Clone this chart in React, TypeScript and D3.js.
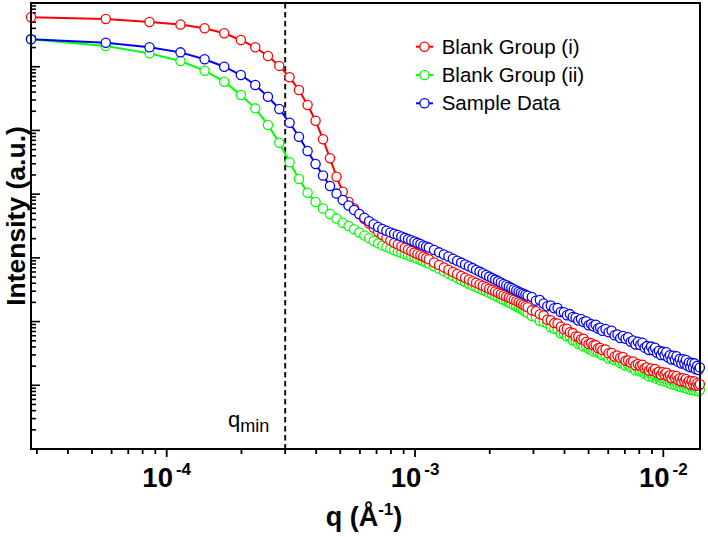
import React from "react";
import * as d3 from "d3";

// Scattering vector q (Å⁻¹) of each plotted point
const qValues = [
  2.841e-5, 5.682e-5, 8.523e-5, 1.136e-4, 1.421e-4, 1.705e-4, 1.989e-4, 2.273e-4, 2.557e-4, 2.841e-4,
  3.125e-4, 3.409e-4, 3.693e-4, 3.977e-4, 4.262e-4, 4.546e-4, 4.83e-4, 5.114e-4, 5.398e-4, 5.682e-4,
  5.966e-4, 6.25e-4, 6.534e-4, 6.818e-4, 7.103e-4, 7.387e-4, 7.671e-4, 7.955e-4, 8.239e-4, 8.523e-4,
  8.807e-4, 9.091e-4, 9.375e-4, 9.659e-4, 9.944e-4, 1.0228e-3, 1.0512e-3, 1.0796e-3, 1.108e-3, 1.1364e-3,
  1.1932e-3, 1.25e-3, 1.3069e-3, 1.3637e-3, 1.4205e-3, 1.4773e-3, 1.5341e-3, 1.591e-3, 1.6478e-3, 1.7046e-3,
  1.7614e-3, 1.8182e-3, 1.8751e-3, 1.9319e-3, 1.9887e-3, 2.0455e-3, 2.1023e-3, 2.1592e-3, 2.216e-3, 2.2728e-3,
  2.3296e-3, 2.3864e-3, 2.4433e-3, 2.5001e-3, 2.5569e-3, 2.6137e-3, 2.6705e-3, 2.7274e-3, 2.7842e-3, 2.841e-3,
  2.9546e-3, 3.0683e-3, 3.1819e-3, 3.2956e-3, 3.4092e-3, 3.5228e-3, 3.6365e-3, 3.7501e-3, 3.8638e-3, 3.9774e-3,
  4.091e-3, 4.2047e-3, 4.3183e-3, 4.432e-3, 4.5456e-3, 4.6592e-3, 4.7729e-3, 4.8865e-3, 5.0002e-3, 5.1138e-3,
  5.2274e-3, 5.3411e-3, 5.4547e-3, 5.5684e-3, 5.682e-3,
  5.8525e-3, 6.0229e-3, 6.1934e-3, 6.3638e-3, 6.5343e-3, 6.7048e-3, 6.8752e-3, 7.0457e-3, 7.2161e-3, 7.3866e-3,
  7.5571e-3, 7.7275e-3, 7.898e-3, 8.0684e-3, 8.2389e-3, 8.4094e-3, 8.5798e-3, 8.7503e-3, 8.9207e-3, 9.0912e-3,
  9.2617e-3, 9.4321e-3, 9.6026e-3, 9.773e-3, 9.9435e-3, 1.0114e-2, 1.02844e-2, 1.04549e-2, 1.06253e-2, 1.07958e-2,
  1.09663e-2, 1.11367e-2, 1.13072e-2, 1.14776e-2, 1.16481e-2, 1.18186e-2, 1.1989e-2, 1.21595e-2, 1.23299e-2, 1.25004e-2,
  1.26709e-2, 1.28413e-2, 1.30118e-2, 1.31822e-2, 1.33527e-2, 1.35232e-2, 1.36936e-2, 1.38641e-2, 1.40345e-2,
];

// Intensity (a.u.) for each series at the q values above
const blankGroupI = [
  5.97e6, 5.61e6, 5.03e6, 4.6e6, 4.01e6, 3.35e6, 2.63e6, 2.02e6, 1.47e6, 1.03e6,
  6.82e5, 4.31e5, 2.51e5, 1.42e5, 7.26e4, 3.65e4, 1.88e4, 1.09e4, 7.61e3, 5.95e3,
  4.88e3, 4.07e3, 3.46e3, 2.96e3, 2.56e3, 2.28e3, 2.05e3, 1.87e3, 1.72e3, 1.62e3,
  1.52e3, 1.43e3, 1.35e3, 1.28e3, 1.21e3, 1.15e3, 1.1e3, 1.05e3, 995, 953,
  846, 773, 708, 649, 600, 558, 519, 486, 458, 430,
  406, 385, 364, 345, 328, 313, 298, 284, 271, 259,
  248, 238, 229, 220, 211, 202, 193, 184, 176, 168,
  150, 145, 130, 125, 107, 105, 94.6, 93.6, 83.1, 75.6,
  77.0, 67.8, 65.9, 58.5, 57.9, 52.9, 53.7, 48.0, 44.5, 45.9,
  42.6, 42.7, 38.3, 38.6, 35.9,
  36.6, 31.9, 32.1, 28.3, 29.4, 27.1, 27.8, 24.2, 24.5, 22.8,
  23.7, 20.6, 21.6, 20.2, 21.0, 18.5, 19.0, 17.1, 18.4, 16.9,
  18.0, 15.7, 16.3, 14.6, 16.0, 14.8, 15.8, 13.7, 14.4, 12.9,
  14.3, 13.0, 14.0, 12.1, 12.9, 11.5, 12.9, 11.5, 12.6, 10.9,
  11.7, 10.3, 11.7, 10.4, 11.5, 9.85, 10.8, 9.82, 10.4,
];

const blankGroupII = [
  2.69e6, 2.11e6, 1.62e6, 1.23e6, 8.66e5, 5.82e5, 3.6e5, 2.22e5, 1.22e5, 6.42e4,
  3.16e4, 1.73e4, 1.05e4, 7.53e3, 5.95e3, 4.88e3, 4.15e3, 3.56e3, 3.16e3, 2.81e3,
  2.5e3, 2.24e3, 2.03e3, 1.84e3, 1.69e3, 1.57e3, 1.48e3, 1.4e3, 1.32e3, 1.26e3,
  1.2e3, 1.15e3, 1.1e3, 1.05e3, 1.01e3, 963, 922, 883, 849, 812,
  737, 673, 617, 568, 523, 483, 448, 418, 392, 368,
  348, 329, 313, 298, 282, 267, 254, 241, 229, 218,
  208, 199, 190, 182, 174, 165, 157, 150, 143, 136,
  122, 118, 102, 98.8, 94.0, 81.3, 77.0, 75.1, 64.8, 64.5,
  58.3, 58.1, 50.6, 49.7, 44.6, 45.1, 40.6, 41.2, 37.1, 36.8,
  33.9, 35.2, 32.4, 32.8, 29.7,
  29.5, 26.4, 27.1, 24.8, 25.0, 22.1, 22.3, 20.4, 21.0, 19.0,
  19.2, 17.2, 17.9, 16.4, 16.8, 15.0, 15.4, 13.9, 14.6, 13.4,
  14.0, 12.6, 13.0, 11.9, 12.7, 11.6, 12.3, 10.9, 11.5, 10.4,
  11.2, 10.2, 10.9, 9.71, 10.3, 9.33, 10.2, 9.23, 9.96, 8.84,
  9.47, 8.52, 9.37, 8.46, 9.2, 8.17, 8.78, 8.08, 8.52,
];

const sampleData = [
  2.69e6, 2.38e6, 2.02e6, 1.68e6, 1.31e6, 1.0e6, 7.41e5, 5.16e5, 3.38e5, 2.17e5,
  1.32e5, 7.97e4, 4.75e4, 2.97e4, 1.96e4, 1.34e4, 1.02e4, 8.09e3, 6.63e3, 5.64e3,
  4.88e3, 4.25e3, 3.75e3, 3.36e3, 3.05e3, 2.84e3, 2.66e3, 2.51e3, 2.39e3, 2.28e3,
  2.17e3, 2.06e3, 1.97e3, 1.89e3, 1.81e3, 1.72e3, 1.65e3, 1.57e3, 1.51e3, 1.45e3,
  1.33e3, 1.22e3, 1.13e3, 1.05e3, 970, 903, 843, 787, 737, 691,
  647, 609, 572, 538, 508, 481, 456, 432, 410, 390,
  371, 354, 338, 322, 307, 295, 284, 274, 264, 255,
  243, 213, 218, 192, 174, 179, 162, 163, 141, 140,
  126, 131, 118, 115, 104, 110, 98.5, 101, 87.7, 91.3,
  84.3, 89.0, 77.8, 80.1, 71.6,
  76.4, 68.1, 71.6, 60.9, 62.9, 55.0, 59.4, 53.7, 56.6, 48.1,
  50.5, 43.8, 48.3, 42.9, 46.4, 39.0, 41.2, 35.9, 40.5, 35.4,
  38.9, 32.4, 34.8, 29.9, 33.8, 29.7, 33.1, 27.2, 29.7, 25.4,
  29.2, 25.2, 28.5, 23.3, 25.9, 21.9, 25.6, 21.9, 25.0, 20.3,
  22.8, 19.2, 22.5, 19.1, 22.1, 17.8, 20.2, 17.4, 19.1,
];

const seriesNames = ["Blank Group (i)", "Blank Group (ii)", "Sample Data"];
const seriesColors = ["#ff0000", "#00ff00", "#0000ff"];
const seriesValues = [blankGroupI, blankGroupII, sampleData];
// drawing order: green underneath, then red, blue on top
const drawOrder = [1, 0, 2];

const qMin = 3.0e-4;
const xDomain = [2.841e-5, 1.4052e-2];
const yDomain = [1, 1e7];
const xTitle = "q (Å";
const yTitle = "Intensity (a.u.)";

const FONT = "'Liberation Sans', Arial, Helvetica, sans-serif";

export default function App() {
  const width = 708;
  const height = 537;
  const left = 31;
  const right = 700;
  const top = 3;
  const bottom = 449;

  const x = d3.scaleLog().domain(xDomain).range([left, right]);
  const y = d3.scaleLog().domain(yDomain).range([bottom, top]);

  const isDecade = (v: number) => Math.abs(Math.log10(v) - Math.round(Math.log10(v))) < 1e-9;

  const xTicks = x.ticks();
  const yTicks = y.ticks().filter((v) => v > yDomain[0] && v < yDomain[1]);

  const line = d3
    .line<[number, number]>()
    .x((d) => x(d[0]))
    .y((d) => y(d[1]));

  const legendY = [46.7, 75, 103.3];

  return (
    <svg
      width={width}
      height={height}
      style={{ position: "absolute", left: 0, top: 0, background: "#fff" }}
      fontFamily={FONT}
    >
      <rect x={0} y={0} width={width} height={height} fill="#fff" />

      {/* y ticks, pointing inward */}
      {yTicks.map((v, i) => (
        <line
          key={"yt" + i}
          x1={left}
          x2={left + (isDecade(v) ? 9 : 5)}
          y1={y(v)}
          y2={y(v)}
          stroke="#000"
          strokeWidth={1.6}
        />
      ))}

      {/* x ticks, pointing outward */}
      {xTicks.map((v, i) => (
        <line
          key={"xt" + i}
          x1={x(v)}
          x2={x(v)}
          y1={bottom}
          y2={bottom + (isDecade(v) ? 8 : 5)}
          stroke="#000"
          strokeWidth={1.8}
        />
      ))}

      {/* x tick labels */}
      {xTicks.filter(isDecade).map((v, i) => (
        <text
          key={"xl" + i}
          x={x(v)}
          y={487}
          textAnchor="middle"
          fontWeight="bold"
          fontSize={27.5}
          fill="#000"
        >
          10
          <tspan fontSize={17} dy={-12} dx={3}>
            {String(Math.round(Math.log10(v)))}
          </tspan>
        </text>
      ))}

      {/* q_min marker */}
      <line
        x1={x(qMin)}
        x2={x(qMin)}
        y1={top}
        y2={bottom}
        stroke="#111"
        strokeWidth={2}
        strokeDasharray="5.5,3.5"
      />
      <text x={228} y={427} fontSize={22} fill="#000">
        q
        <tspan fontSize={18} dy={5}>
          min
        </tspan>
      </text>

      {/* series */}
      {drawOrder.map((s) => {
        const pts: [number, number][] = qValues.map((q, i) => [q, seriesValues[s][i]]);
        return (
          <g key={"s" + s}>
            <path d={line(pts) || ""} fill="none" stroke={seriesColors[s]} strokeWidth={2} />
            {pts.map((p, i) => (
              <circle
                key={i}
                cx={x(p[0])}
                cy={y(p[1])}
                r={4.6}
                fill="#fff"
                stroke={seriesColors[s]}
                strokeWidth={1.3}
              />
            ))}
          </g>
        );
      })}

      {/* frame */}
      <rect
        x={left}
        y={top}
        width={right - left}
        height={bottom - top}
        fill="none"
        stroke="#000"
        strokeWidth={2}
      />

      {/* legend */}
      {seriesNames.map((name, i) => (
        <g key={"lg" + i}>
          <line
            x1={416}
            x2={433}
            y1={legendY[i]}
            y2={legendY[i]}
            stroke={seriesColors[i]}
            strokeWidth={2}
          />
          <circle
            cx={424.5}
            cy={legendY[i]}
            r={4.6}
            fill="#fff"
            stroke={seriesColors[i]}
            strokeWidth={1.3}
          />
          <text x={441.7} y={legendY[i] + 6.8} fontSize={20.5} fill="#000">
            {name}
          </text>
        </g>
      ))}

      {/* axis titles */}
      <text
        x={364}
        y={526}
        textAnchor="middle"
        fontWeight="bold"
        fontSize={27}
        fill="#000"
      >
        {xTitle}
        <tspan fontSize={17} dy={-11}>
          -1
        </tspan>
        <tspan dy={11}>)</tspan>
      </text>
      <text
        transform="translate(24.5,216) rotate(-90)"
        textAnchor="middle"
        fontWeight="bold"
        fontSize={26.5}
        fill="#000"
      >
        {yTitle}
      </text>
    </svg>
  );
}
